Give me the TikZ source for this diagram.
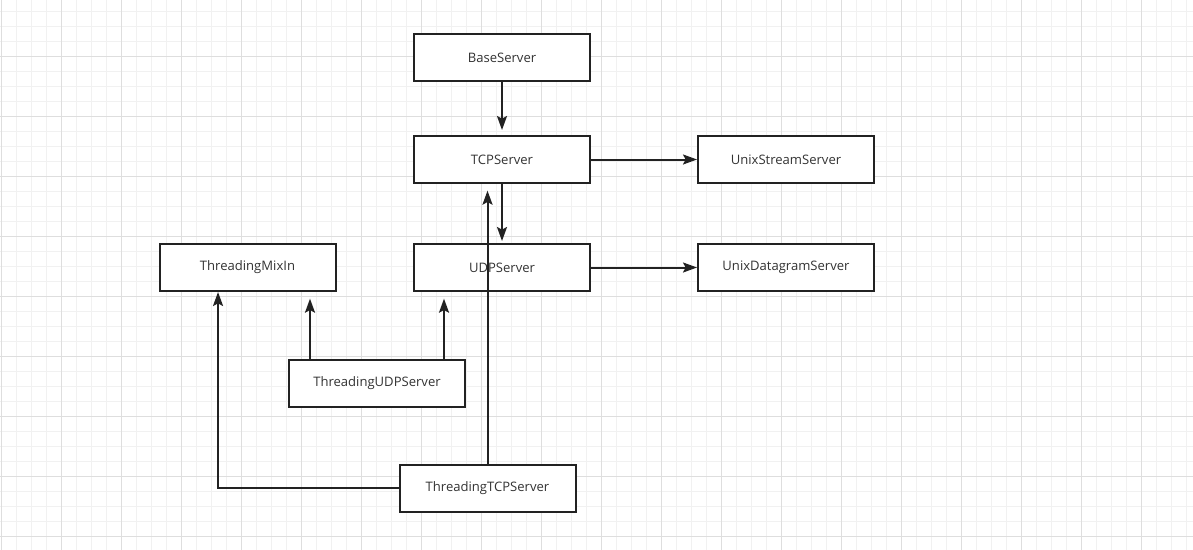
\documentclass[tikz,border=0pt]{standalone}
\usepackage{fontspec}
\setmainfont{Open Sans}
\usetikzlibrary{arrows.meta}
\definecolor{ink}{HTML}{222222}
\definecolor{txt}{HTML}{333333}
\definecolor{gridminor}{HTML}{F1F1F1}
\definecolor{gridmajor}{HTML}{DEDEDE}
\tikzset{
  box/.style={draw=ink, line width=1.5pt, fill=white, minimum width=132pt, minimum height=35.25pt, inner sep=0pt, text=txt, font=\fontsize{9.8pt}{11pt}\selectfont},
  arr/.style={draw=ink, line width=1.5pt, -{Stealth[length=10.5pt, width=7.5pt, inset=2pt]}},
}
\begin{document}
\begin{tikzpicture}[x=0.75pt,y=-0.75pt]
\useasboundingbox (0,0) rectangle (1193,550);
\fill[white] (0,0) rectangle (1193,550);
% minor grid
\foreach \gx in {1,16,...,1193} \draw[gridminor, line width=0.75pt] (\gx,0) -- (\gx,550);
\foreach \gy in {11,26,...,550} \draw[gridminor, line width=0.75pt] (0,\gy) -- (1193,\gy);
% major grid
\foreach \gx in {1,61,...,1193} \draw[gridmajor, line width=0.75pt] (\gx,0) -- (\gx,550);
\foreach \gy in {56,116,...,550} \draw[gridmajor, line width=0.75pt] (0,\gy) -- (1193,\gy);

\node[box] (base) at (502,57.5) {BaseServer};
\node[box] (tcp) at (502,159.5) {TCPServer};
\node[box] (udp) at (502,267.5) {UDPServer};
\node[box] (mixin) at (247.5,267.5) {ThreadingMixIn};
\node[box] (tudp) at (377,383.5) {ThreadingUDPServer};
\node[box] (ttcp) at (487.5,488) {ThreadingTCPServer};
\node[box] (ustream) at (786,159.5) {UnixStreamServer};
\node[box] (udgram) at (786,267.5) {UnixDatagramServer};

\draw[arr, shorten >=3.75pt] (base.south) -- (tcp.north);
\draw[arr] (tcp.east) -- (ustream.west);
\draw[arr, shorten >=1.5pt] (tcp.south) -- (udp.north);
\draw[arr] (udp.east) -- (udgram.west);
\draw[arr, shorten >=5pt] ([xshift=-50.25pt]tudp.north) -- ([xshift=-50.25pt]tudp.north |- mixin.south);
\draw[arr, shorten >=5pt] ([xshift=50.25pt]tudp.north) -- ([xshift=50.25pt]tudp.north |- udp.south);
\draw[arr] (ttcp.west) -| ([xshift=-22.1pt]mixin.south);
\draw[arr, shorten >=5pt] (ttcp.north) -- (ttcp.north |- tcp.south);
\end{tikzpicture}
\end{document}
